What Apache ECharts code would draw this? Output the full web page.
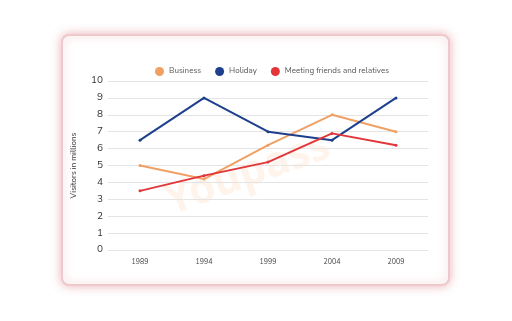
<!DOCTYPE html>
<html><head><meta charset="utf-8">
<script src="https://cdn.jsdelivr.net/npm/echarts@6/dist/echarts.min.js"></script>
<style>html,body{margin:0;padding:0;background:#fff;}#c{width:512px;height:321px;}</style>
</head><body><div id="c"></div>
<script>
var years = ['1989','1994','1999','2004','2009'];
var business = [5, 4.2, 6.2, 8, 7];
var holiday = [6.5, 9, 7, 6.5, 9];
var meeting = [3.5, 4.4, 5.2, 6.9, 6.2];
var seriesNames = ['Business','Holiday','Meeting friends and relatives'];
var colors = ['#F0A065','#1E3F8C','#E2363A'];

var chart = echarts.init(document.getElementById('c'));
var font = 'Nunito, "Noto Sans", sans-serif';
chart.setOption({
  animation: false,
  backgroundColor: '#fff',
  graphic: [
    {type:'rect', shape:{x:62,y:35,width:387,height:250,r:7}, z:-10,
     style:{fill:'#fff', stroke:'#F0C8CC', lineWidth:2, shadowBlur:10, shadowColor:'rgba(220,130,140,0.55)'}},
    {type:'text', left:160, top:125, rotation:0.35, z:-5,
     style:{text:'Youpass', font:'bold 42px "Noto Sans", sans-serif', fill:'rgba(245,170,100,0.13)'}}
  ],
  legend: {
    top: 62, left: 150, itemWidth: 9, itemHeight: 9, itemGap: 14,
    icon: 'circle',
    textStyle: {fontSize: 8, color: '#555', fontFamily: font},
    data: seriesNames
  },
  grid: {left: 108, right: 84, top: 81, bottom: 71},
  xAxis: {
    type: 'category', data: years, boundaryGap: true,
    axisLine: {show: false}, axisTick: {show: false},
    axisLabel: {fontSize: 7, color: '#444', margin: 9, fontFamily: font}
  },
  yAxis: {
    type: 'value', min: 0, max: 10, interval: 1,
    name: 'Visitors in millions', nameLocation: 'middle', nameGap: 30,
    nameTextStyle: {fontSize: 8, color: '#333', fontFamily: font},
    axisLabel: {fontSize: 10, color: '#333', margin: 5, fontFamily: font},
    splitLine: {lineStyle: {color: '#E4E4E4', width: 1}}
  },
  series: [
    {name: seriesNames[0], type: 'line', data: business, color: colors[0], symbol: 'circle', symbolSize: 3, lineStyle: {width: 2}},
    {name: seriesNames[1], type: 'line', data: holiday, color: colors[1], symbol: 'circle', symbolSize: 3, lineStyle: {width: 2}},
    {name: seriesNames[2], type: 'line', data: meeting, color: colors[2], symbol: 'circle', symbolSize: 3, lineStyle: {width: 2}}
  ]
});
</script></body></html>
